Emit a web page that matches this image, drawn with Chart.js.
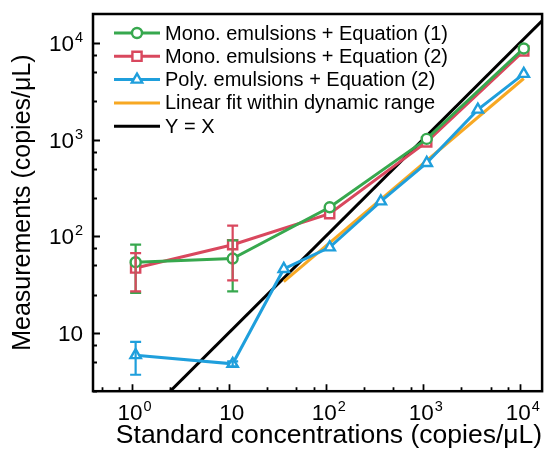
<!DOCTYPE html>
<html>
<head>
<meta charset="utf-8">
<script src="https://cdn.jsdelivr.net/npm/chart.js@4/dist/chart.umd.min.js"></script>
<style>
  html, body { margin: 0; padding: 0; background: #fff; }
</style>
</head>
<body>
<canvas id="chart" width="551" height="454"></canvas>
<script>
// values
var monoX = [1.1, 11, 110, 1100, 11000];
var monoEq1 = [54, 59, 200, 1020, 8800];
var monoEq1Err = [28, 32, 0, 0, 0];
var monoEq2 = [47, 82, 172, 950, 8300];
var monoEq2Err = [20, 47, 0, 0, 0];

var polyX = [1.1, 11, 37, 110, 370, 1100, 3700, 11000];
var polyEq2 = [5.9, 4.8, 46, 77, 230, 575, 2050, 4800];
var polyEq2Err = [2.2, 0.3, 0, 0, 0, 0, 0, 0];

var fitX = [37, 11000];
var fitY = [34, 4300];

var identX = [0.1, 100000];

var majorTicks = [1, 10, 100, 1000, 10000];
var xTickLabels = [['10', '0'], ['10', ''], ['10', '2'], ['10', '3'], ['10', '4']];
var yTicks = [10, 100, 1000, 10000];
var yTickLabels = [['10', ''], ['10', '2'], ['10', '3'], ['10', '4']];

var legendLabels = [
  'Mono. emulsions + Equation (1)',
  'Mono. emulsions + Equation (2)',
  'Poly. emulsions + Equation (2)',
  'Linear fit within dynamic range',
  'Y = X'
];

var FONT = '"Liberation Sans", Arial, Helvetica, sans-serif';
var GREEN = '#37a84e', RED = '#d9485e', BLUE = '#1f9fdc', ORANGE = '#f7a823', BLACK = '#000';

function pts(xs, ys) {
  return xs.map(function (x, i) { return {x: x, y: ys[i]}; });
}

// draws the box, inward ticks, tick labels, error bars and the legend
var frame = {
  id: 'frame',
  afterDatasetsDraw: function (chart) {
    var c = chart.ctx, xs = chart.scales.x, ys = chart.scales.y;

    // error bars
    c.save();
    chart.data.datasets.forEach(function (ds) {
      if (!ds.errors) return;
      c.strokeStyle = ds.borderColor;
      c.lineWidth = 2.2;
      ds.data.forEach(function (p, i) {
        var e = ds.errors[i];
        if (!e) return;
        var px = xs.getPixelForValue(p.x);
        var top = ys.getPixelForValue(p.y + e);
        var bot = ys.getPixelForValue(p.y - e);
        c.beginPath();
        c.moveTo(px, top); c.lineTo(px, bot);
        c.moveTo(px - 5.5, top); c.lineTo(px + 5.5, top);
        c.moveTo(px - 5.5, bot); c.lineTo(px + 5.5, bot);
        c.stroke();
      });
    });
    c.restore();
  },
  afterDraw: function (chart) {
    var c = chart.ctx, xs = chart.scales.x, ys = chart.scales.y, a = chart.chartArea;
    c.save();
    c.strokeStyle = '#000';
    c.lineWidth = 2.5;
    c.strokeRect(a.left, a.top, a.right - a.left, a.bottom - a.top);

    // ticks, majors plus minors at 2.5, 5, 7.5
    c.lineWidth = 1.8;
    c.beginPath();
    for (var k = -1; k <= 4; k++) {
      [1, 2.5, 5, 7.5].forEach(function (m) {
        var v = m * Math.pow(10, k);
        var len = m === 1 ? 7 : 4;
        if (v >= xs.min && v <= xs.max) {
          var px = Math.round(xs.getPixelForValue(v)) + 0.5;
          c.moveTo(px, a.bottom); c.lineTo(px, a.bottom - len);
        }
        if (v >= ys.min && v <= ys.max) {
          var py = Math.round(ys.getPixelForValue(v)) + 0.5;
          c.moveTo(a.left, py); c.lineTo(a.left + len, py);
        }
      });
    }
    c.stroke();

    // tick labels with superscripts
    c.fillStyle = '#000';
    c.textBaseline = 'alphabetic';
    function label(parts, x, baseY, align) {
      c.font = '22.5px ' + FONT;
      var w1 = c.measureText(parts[0]).width;
      c.font = '14.5px ' + FONT;
      var w2 = parts[1] ? c.measureText(parts[1]).width + 1 : 0;
      var left = align === 'right' ? x - w1 - w2 : x - (w1 + w2) / 2;
      c.textAlign = 'left';
      c.font = '22.5px ' + FONT;
      c.fillText(parts[0], left, baseY);
      if (parts[1]) {
        c.font = '14.5px ' + FONT;
        c.fillText(parts[1], left + w1 + 1, baseY - 9);
      }
    }
    majorTicks.forEach(function (v, i) {
      label(xTickLabels[i], xs.getPixelForValue(v) + 3, 420, 'center');
    });
    yTicks.forEach(function (v, i) {
      label(yTickLabels[i], 83, ys.getPixelForValue(v) + 8, 'right');
    });

    // legend
    c.textBaseline = 'middle';
    c.textAlign = 'left';
    c.font = '20px ' + FONT;
    chart.data.datasets.forEach(function (ds, i) {
      var y = 33 + i * 23.3;
      c.strokeStyle = ds.borderColor;
      c.lineWidth = ds.borderWidth;
      c.beginPath();
      c.moveTo(114, y); c.lineTo(160, y);
      c.stroke();
      if (ds.pointRadius > 0) {
        c.fillStyle = '#fff';
        c.strokeStyle = ds.borderColor;
        c.lineWidth = ds.pointBorderWidth;
        Chart.helpers.drawPoint(c, {
          pointStyle: ds.pointStyle, radius: ds.pointRadius,
          borderWidth: ds.pointBorderWidth, rotation: 0
        }, 137, y);
      }
      c.fillStyle = '#000';
      c.fillText(legendLabels[i], 165, y + 1);
    });
    c.restore();
  }
};

function series(label, data, color, style, radius, errors) {
  return {
    label: label,
    data: data,
    borderColor: color,
    backgroundColor: color,
    borderWidth: 3,
    pointStyle: style,
    pointRadius: radius,
    pointBorderWidth: 2.4,
    pointBorderColor: color,
    pointBackgroundColor: '#fff',
    tension: 0,
    errors: errors
  };
}

new Chart(document.getElementById('chart'), {
  type: 'line',
  data: {
    datasets: [
      series(legendLabels[0], pts(monoX, monoEq1), GREEN, 'circle', 5, monoEq1Err),
      series(legendLabels[1], pts(monoX, monoEq2), RED, 'rect', 6.5, monoEq2Err),
      series(legendLabels[2], pts(polyX, polyEq2), BLUE, 'triangle', 6, polyEq2Err),
      series(legendLabels[3], pts(fitX, fitY), ORANGE, false, 0),
      series(legendLabels[4], pts(identX, identX), BLACK, false, 0)
    ]
  },
  options: {
    responsive: false,
    animation: false,
    layout: {padding: {top: 14, right: 2, left: 0, bottom: 0}},
    plugins: {legend: {display: false}, tooltip: {enabled: false}},
    scales: {
      x: {
        type: 'logarithmic', min: 0.4, max: 17000,
        ticks: {display: false},
        grid: {display: false, drawTicks: false},
        border: {display: false},
        title: {
          display: true, text: 'Standard concentrations (copies/μL)', color: '#000',
          align: 'end',
          font: {family: FONT, size: 26.5}, padding: {top: 29, bottom: 2}
        }
      },
      y: {
        type: 'logarithmic', min: 2.5, max: 20000,
        ticks: {display: false},
        grid: {display: false, drawTicks: false},
        border: {display: false},
        title: {
          display: true, text: 'Measurements (copies/μL)', color: '#000',
          font: {family: FONT, size: 25}, padding: {top: 8, bottom: 55}
        }
      }
    }
  },
  plugins: [frame]
});
</script>
</body>
</html>
